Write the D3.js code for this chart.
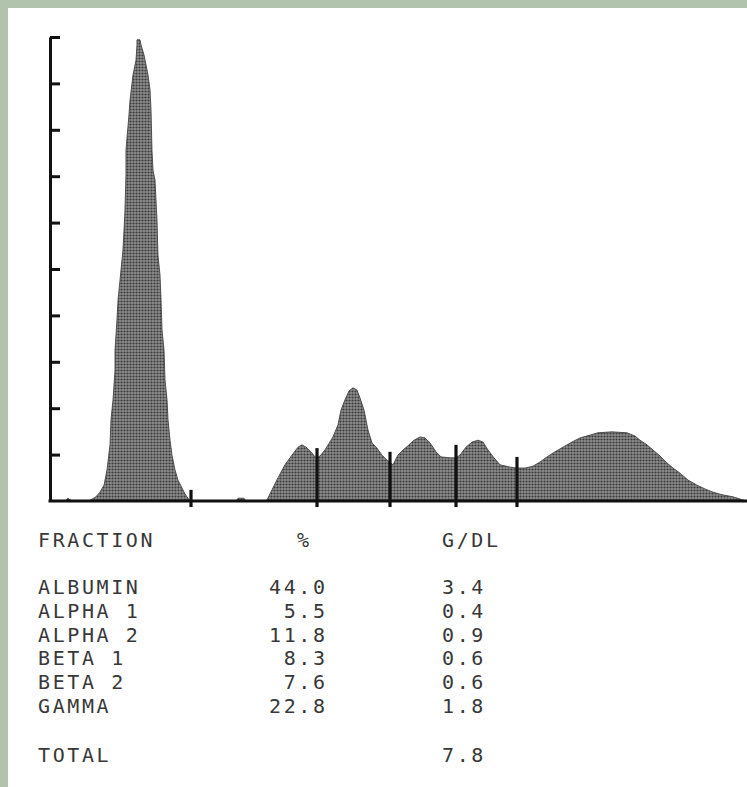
<!DOCTYPE html>
<html>
<head>
<meta charset="utf-8">
<script src="https://cdn.jsdelivr.net/npm/d3@7"></script>
<style>
  html, body { margin: 0; padding: 0; background: #fff; }
  svg { display: block; }
</style>
</head>
<body>
<svg id="chart" width="747" height="787"></svg>
<script>
// ---- data (scan position 0..100, density in tick units 0..10) ----
const positions = [
  0, 2.15, 2.58, 3.16, 5.45, 6.03, 6.60, 7.17, 7.75, 8.18, 8.61, 8.75, 9.04, 9.33, 9.33, 9.61, 9.76,
  10.19, 10.47, 10.62, 10.76, 10.90, 10.90, 11.33, 11.48, 11.91, 12.05, 12.34, 12.48, 12.48,
  12.91, 13.06, 13.49, 13.77, 14.06, 14.35, 14.49, 14.63, 14.78, 15.06, 15.35, 15.49, 15.78,
  15.93, 16.07, 16.36, 16.50, 16.79, 16.93, 17.22, 17.50, 17.93, 18.36, 18.94, 19.37, 19.80, 20.09,
  26.69, 26.97, 27.83, 28.12, 30.85,
  31.13, 31.85, 32.71, 33.72, 34.72, 35.58, 36.15, 36.73, 37.45, 38.02, 38.31,
  38.74, 39.45, 40.60, 41.32, 41.75, 42.32, 42.90, 43.47, 44.05, 44.48, 45.05, 45.62, 46.20,
  46.91, 47.63, 48.35, 48.78,
  49.21, 49.93, 50.65, 51.36, 52.22, 53.08, 53.80, 54.52, 55.38, 56.10, 57.39, 58.25,
  58.82, 59.68, 60.55, 61.41, 62.12, 62.84, 63.70, 64.56, 66.00, 67.00,
  68.15, 69.30, 70.30, 71.31, 72.45, 73.60, 74.89, 76.04, 77.47, 78.62, 80.63, 82.78, 83.93,
  84.65, 85.65, 86.51, 87.52, 88.52, 89.38, 90.39, 91.54, 92.83, 93.97, 95.12, 96.56, 97.99,
  99.43, 100
];
const density = [
  0, 0, 0.06, 0, 0, 0.04, 0.09, 0.19, 0.34, 0.67, 1.21, 1.75, 2.18, 2.82, 3.25, 3.90, 4.33,
  4.98, 5.41, 5.84, 6.27, 7.03, 7.56, 8.32, 8.64, 9.18, 9.29, 9.50, 9.83, 9.94,
  9.94, 9.83, 9.61, 9.40, 9.18, 8.86, 8.43, 7.56, 7.13, 6.92, 6.06, 5.30, 4.87,
  4.33, 3.69, 3.25, 2.61, 2.18, 1.75, 1.31, 0.99, 0.67, 0.45, 0.28, 0.15, 0.06, 0,
  0, 0.06, 0.06, 0, 0,
  0.02, 0.24, 0.50, 0.78, 0.99, 1.16, 1.21, 1.16, 1.06, 0.95, 0.93,
  0.97, 1.10, 1.38, 1.64, 1.96, 2.18, 2.37, 2.44, 2.39, 2.22, 1.96, 1.53, 1.25,
  1.14, 0.99, 0.88, 0.84,
  0.78, 0.99, 1.10, 1.19, 1.31, 1.38, 1.36, 1.25, 1.06, 0.95, 0.93, 0.93,
  0.99, 1.16, 1.27, 1.31, 1.27, 1.10, 0.93, 0.78, 0.73, 0.71,
  0.71, 0.75, 0.84, 0.95, 1.06, 1.16, 1.27, 1.36, 1.42, 1.47, 1.49, 1.47, 1.40,
  1.31, 1.21, 1.10, 0.97, 0.82, 0.71, 0.60, 0.45, 0.34, 0.26, 0.19, 0.13, 0.09,
  0.02, 0
];
// fraction boundaries (position) and marker top (tick units)
const dividerPos = [20.23, 38.31, 48.78, 58.25, 67.00];
const dividerTop = [0.24, 1.14, 1.06, 1.21, 0.95];
const yTicks = [1, 2, 3, 4, 5, 6, 7, 8, 9, 10];

const fractions = ["ALBUMIN", "ALPHA 1", "ALPHA 2", "BETA 1", "BETA 2", "GAMMA"];
const percents = [44.0, 5.5, 11.8, 8.3, 7.6, 22.8];
const gdl = [3.4, 0.4, 0.9, 0.6, 0.6, 1.8];
const totalGdl = 7.8;
const headers = ["FRACTION", "%", "G/DL"];

// ---- drawing ----
const svg = d3.select("#chart");
const W = 747, H = 787;

// green scan border + paper
svg.append("rect").attr("width", W).attr("height", H).attr("fill", "#b1c3ac");
svg.append("rect").attr("x", 8).attr("y", 8).attr("width", W - 8).attr("height", H - 8).attr("fill", "#ffffff");

// halftone pattern
const defs = svg.append("defs");
const pat = defs.append("pattern").attr("id", "dots").attr("width", 3).attr("height", 3)
  .attr("patternUnits", "userSpaceOnUse");
pat.append("rect").attr("width", 3).attr("height", 3).attr("fill", "#8e8e8e");
pat.append("circle").attr("cx", 1.5).attr("cy", 1.5).attr("r", 1.1).attr("fill", "#3a3a3a");

const x = d3.scaleLinear().domain([0, 100]).range([50, 747]);
const y = d3.scaleLinear().domain([0, 10]).range([501, 37]);

const pts = positions.map((p, i) => [p, density[i]]);
const area = d3.area().x(d => x(d[0])).y0(y(0)).y1(d => y(d[1])).curve(d3.curveLinear);
svg.append("path").datum(pts).attr("d", area).attr("fill", "url(#dots)")
  .attr("stroke", "#444").attr("stroke-width", 0.9);

// y axis (bracket with ticks)
const yAxis = d3.axisRight(y).tickValues(yTicks).tickSizeInner(10).tickSizeOuter(0).tickFormat("");
const ga = svg.append("g").attr("transform", `translate(${x(0)},0)`).call(yAxis);
ga.select(".domain").attr("stroke", "#111").attr("stroke-width", 3);
ga.selectAll(".tick line").attr("stroke", "#111").attr("stroke-width", 3);

// baseline
svg.append("line").attr("x1", x(0) - 1.5).attr("x2", x(100)).attr("y1", y(0)).attr("y2", y(0))
  .attr("stroke", "#111").attr("stroke-width", 3);

// fraction dividers
svg.selectAll("line.div").data(dividerPos).join("line").attr("class", "div")
  .attr("x1", d => x(d)).attr("x2", d => x(d))
  .attr("y1", (d, i) => y(dividerTop[i])).attr("y2", y(-0.13))
  .attr("stroke", "#111").attr("stroke-width", 3.2);

// ---- table ----
const font = "'DejaVu Sans Mono', 'Liberation Mono', monospace";
const txt = (s, xx, yy, anchor) => svg.append("text").text(s)
  .attr("x", xx).attr("y", yy).attr("text-anchor", anchor || "start")
  .attr("font-family", font).attr("font-size", 20).attr("letter-spacing", 2.6)
  .attr("fill", "#383838");

const colFrac = 38, colPctEnd = 327.6, colGdl = 442;
txt(headers[0], colFrac, 547);
txt(headers[1], 297, 547);
txt(headers[2], colGdl, 547);

const rowY = i => 594 + i * 23.8;
const f1 = d3.format(".1f");
fractions.forEach((f, i) => {
  txt(f, colFrac, rowY(i));
  txt(f1(percents[i]), colPctEnd, rowY(i), "end");
  txt(f1(gdl[i]), colGdl, rowY(i));
});
txt("TOTAL", colFrac, 762);
txt(f1(totalGdl), colGdl, 762);
</script>
</body>
</html>
